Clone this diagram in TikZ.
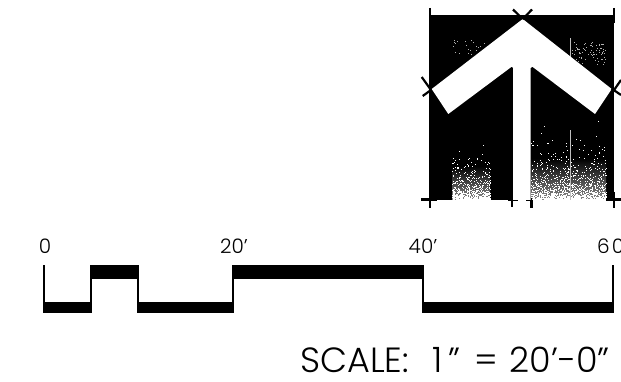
\documentclass[tikz,border=0pt]{standalone}
\usepackage{fontspec}
\setmainfont{Poppins Light}[]
\tikzset{
  tick/.style={line width=2.2pt,black},
  crossmark/.style={line width=2.2pt,black},
  barbar/.style={fill=black,draw=none},
  stem/.style={line width=2pt,black},
  numlabel/.style={font=\fontsize{20}{20}\selectfont,inner sep=0pt,anchor=base},
  scalelabel/.style={font=\fontsize{35}{35}\selectfont,inner sep=0pt,anchor=base west},
  grainA/.style={bottom color=black!45,top color=black,middle color=black,draw=none},
  grainB/.style={bottom color=black!45,top color=black,middle color=black,draw=none}
}
\begin{document}
\begin{tikzpicture}[x=1pt,y=-1pt]
\useasboundingbox (0,0) rectangle (621,382);
\clip (0,0) rectangle (621,382);
% north arrow block
\fill[black] (429,15) rectangle (614,200);
\shade[grainA] (452,132) rectangle (490,200);
\shade[grainB] (531,117) rectangle (606,200);
\pgfmathsetseed{4242}
% stippled grain, thicker towards the bottom
\foreach \i in {1,...,800}{
  \pgfmathsetmacro{\px}{452+38*rnd}
  \pgfmathsetmacro{\py}{200-68*rnd*rnd*rnd}
  \fill[white] (\px,\py) rectangle +(1,1);
}
\foreach \i in {1,...,1500}{
  \pgfmathsetmacro{\px}{531+75*rnd}
  \pgfmathsetmacro{\py}{200-83*rnd*rnd*rnd}
  \fill[white] (\px,\py) rectangle +(1,1);
}
\foreach \i in {1,...,30}{
  \pgfmathsetmacro{\px}{452+38*rnd}
  \pgfmathsetmacro{\py}{40+15*rnd}
  \fill[white!70!black] (\px,\py) rectangle +(1,1);
}
\foreach \i in {1,...,80}{
  \pgfmathsetmacro{\px}{570+35*rnd}
  \pgfmathsetmacro{\py}{42+22*rnd}
  \fill[white!70!black] (\px,\py) rectangle +(1,1);
}
\fill[white!75!black] (569.6,38) rectangle (570.6,60);
\fill[white!75!black] (569.6,130) rectangle (570.6,200);
% corner ticks
\draw[tick] (430,8) -- (430,23);
\draw[tick] (614,8) -- (614,23);
\draw[tick] (421,199.5) -- (437,199.5) (430,192) -- (430,208);
\draw[tick] (614,192) -- (614,208) (606,199.5) -- (621,199.5);
\draw[tick] (508,199.5) -- (518,199.5) (512,193) -- (512,207);
\draw[tick] (526,199.5) -- (532,199.5) (531.5,200) -- (531.5,208);
% arrow
\fill[white] (522.7,19) -- (611.7,89) -- (595,114) -- (532.3,66.7) -- (530.7,68) -- (530.7,200)
  -- (513,200) -- (513,68) -- (511.7,66.7) -- (448.3,114) -- (431.7,89) -- cycle;
% crosses
\draw[crossmark] (513,9.5) -- (522.7,19) (532,9.5) -- (522.7,19);
\draw[crossmark] (421.7,77) -- (431,90) (431,90) -- (422.7,96);
\draw[crossmark] (612,93) -- (621,80) (611.5,88.5) -- (621,95);
% scale bar
\fill[barbar] (43.5,302) rectangle (90.7,313);
\fill[barbar] (90.7,265) rectangle (138,279);
\fill[barbar] (138,302) rectangle (233,313);
\fill[barbar] (233,265) rectangle (422.7,279);
\fill[barbar] (422.7,302) rectangle (612.7,313);
\draw[stem] (43.5,265) -- (43.5,313);
\draw[stem] (90.7,265) -- (90.7,313);
\draw[stem] (138,265) -- (138,313);
\draw[stem] (233,265) -- (233,313);
\draw[stem] (422.7,265) -- (422.7,313);
\draw[stem] (612.7,265) -- (612.7,313);
% labels
\node[numlabel] (l0) at (45,253) {0};
\node[numlabel] (l20) at (234,253) {20'};
\node[numlabel] (l40) at (423,253) {40'};
\node[numlabel,anchor=base west] (l60) at (597,253) {6\hspace{2pt}0};
\node[scalelabel] (sc) at (300,372) {SCALE:\hspace{24pt}1\hspace{5pt}"\hspace{14pt}=\hspace{12pt}20'-0"};
\end{tikzpicture}
\end{document}
